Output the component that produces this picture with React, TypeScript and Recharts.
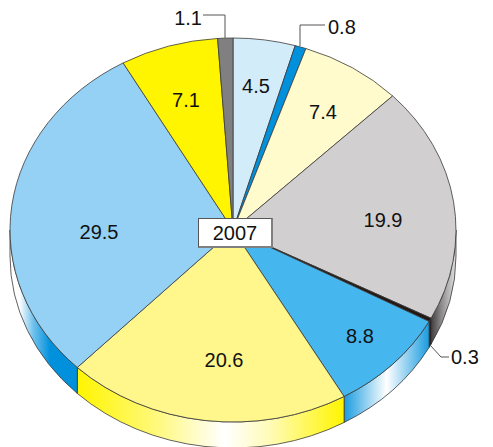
import { PieChart, Pie, Cell } from "recharts";

const WIDTH = 493;
const HEIGHT = 447;

const values = [4.5, 0.8, 7.4, 19.9, 0.3, 8.8, 20.6, 29.5, 7.1, 1.1];
const faceColors = [
    "#d3ecf9", "#0090dc", "#fffbcc", "#d1cfd0", "#231815",
    "#45b6ee", "#fff78c", "#94d1f4", "#fff500", "#808080",
];
const sideGradients: Record<number, [number, string][]> = {
    3: [[0, "#3f3d3d"], [0.4, "#8a8888"], [1, "#e4e3e3"]],
    5: [[0, "#1a9ce0"], [0.5, "#ffffff"], [1, "#1a9ce0"]],
    6: [[0, "#fff500"], [0.3, "#fff97e"], [0.55, "#ffffff"], [0.72, "#fffbb8"], [1, "#fff500"]],
    7: [[0, "#ffffff"], [0.14, "#ffffff"], [0.35, "#6ec0ec"], [0.6, "#0090dc"], [1, "#0090dc"]],
};
const yearLabel = "2007";

const CX = 233;
const CY = 230;
const RX = 223;
const RY = 192;
const DEPTH = 26;
const OUTLINE = "#3a3a3a";
const FONT_SIZE = 20;

// where the numbers sit inside the slices, the perspective makes them uneven
const insideLabels: Record<number, [number, number]> = {
    0: [256, 86],
    2: [323, 112],
    3: [383, 220],
    5: [360, 336],
    6: [224, 360],
    7: [99, 232],
    8: [186, 100],
};

// leader lines for the slices too thin to hold a number
const leaders: Record<number, { text: [number, number]; anchor: string; path: [number, number][] }> = {
    1: { text: [328, 27], anchor: "start", path: [[300, 46], [300, 25], [325, 25]] },
    4: { text: [451, 357], anchor: "start", path: [[430, 345], [441, 357], [449, 357]] },
    9: { text: [202, 18], anchor: "end", path: [[225, 38], [225, 15], [203, 15]] },
};

const data = values.map((value, i) => ({ name: String(value), value, index: i }));

const rad = (a: number) => (a * Math.PI) / 180;
const px = (a: number) => CX + RX * Math.cos(rad(a));
const py = (a: number) => CY - RY * Math.sin(rad(a));

function FaceSector(props: any) {
    const { startAngle: s, endAngle: e, fill } = props;
    const large = Math.abs(s - e) > 180 ? 1 : 0;
    const d = `M${CX},${CY} L${px(s)},${py(s)} A${RX},${RY} 0 ${large} 1 ${px(e)},${py(e)} Z`;
    return <path d={d} fill={fill} stroke={OUTLINE} strokeWidth={0.8} strokeLinejoin="round" />;
}

function SideSector(props: any) {
    const { startAngle, endAngle, fill } = props;
    const s = Math.min(startAngle, 0);
    const e = Math.max(endAngle, -180);
    if (s <= e) return <g />;
    const d =
        `M${px(s)},${py(s)} A${RX},${RY} 0 0 1 ${px(e)},${py(e)} ` +
        `L${px(e)},${py(e) + DEPTH} A${RX},${RY} 0 0 0 ${px(s)},${py(s) + DEPTH} Z`;
    return <path d={d} fill={fill} stroke={OUTLINE} strokeWidth={0.8} strokeLinejoin="round" />;
}

function SliceLabel(props: any) {
    const { index } = props;
    const textStyle = { fontFamily: "Liberation Sans", fontSize: FONT_SIZE, fill: "#111" };
    const leader = leaders[index];
    if (leader) {
        return (
            <g>
                <polyline
                    points={leader.path.map((p) => p.join(",")).join(" ")}
                    fill="none"
                    stroke="#555"
                    strokeWidth={1}
                />
                <text
                    x={leader.text[0]}
                    y={leader.text[1]}
                    textAnchor={leader.anchor as any}
                    dominantBaseline="central"
                    style={textStyle}
                >
                    {values[index]}
                </text>
            </g>
        );
    }
    const [x, y] = insideLabels[index];
    return (
        <text x={x} y={y} textAnchor="middle" dominantBaseline="central" style={textStyle}>
            {values[index]}
        </text>
    );
}

export default function App() {
    return (
        <div style={{ position: "absolute", left: 0, top: 0, width: WIDTH, height: HEIGHT, background: "#fff" }}>
            <PieChart width={WIDTH} height={HEIGHT} margin={{ top: 0, right: 0, bottom: 0, left: 0 }}>
                <defs>
                    {Object.entries(sideGradients).map(([i, stops]) => (
                        <linearGradient key={i} id={`side-${i}`} x1="0" y1="0" x2="1" y2="0">
                            {stops.map(([offset, color]) => (
                                <stop key={offset} offset={offset} stopColor={color} />
                            ))}
                        </linearGradient>
                    ))}
                </defs>
                <Pie
                    data={data}
                    dataKey="value"
                    cx={CX}
                    cy={CY}
                    outerRadius={RX}
                    startAngle={90}
                    endAngle={-270}
                    shape={SideSector}
                    label={false}
                    isAnimationActive={false}
                >
                    {data.map((_, i) => (
                        <Cell key={i} fill={sideGradients[i] ? `url(#side-${i})` : faceColors[i]} />
                    ))}
                </Pie>
                <Pie
                    data={data}
                    dataKey="value"
                    cx={CX}
                    cy={CY}
                    outerRadius={RX}
                    startAngle={90}
                    endAngle={-270}
                    shape={FaceSector}
                    label={SliceLabel}
                    labelLine={false}
                    isAnimationActive={false}
                >
                    {data.map((_, i) => (
                        <Cell key={i} fill={faceColors[i]} />
                    ))}
                </Pie>
            </PieChart>
            <div
                style={{
                    position: "absolute",
                    left: 198,
                    top: 218,
                    width: 72,
                    height: 27,
                    background: "#fff",
                    borderTop: "1px solid #555",
                    borderLeft: "1px solid #555",
                    borderRight: "2px solid #808080",
                    borderBottom: "2px solid #808080",
                    textAlign: "center",
                    lineHeight: "29px",
                    fontFamily: "Liberation Sans",
                    fontSize: FONT_SIZE,
                    color: "#111",
                }}
            >
                {yearLabel}
            </div>
        </div>
    );
}
